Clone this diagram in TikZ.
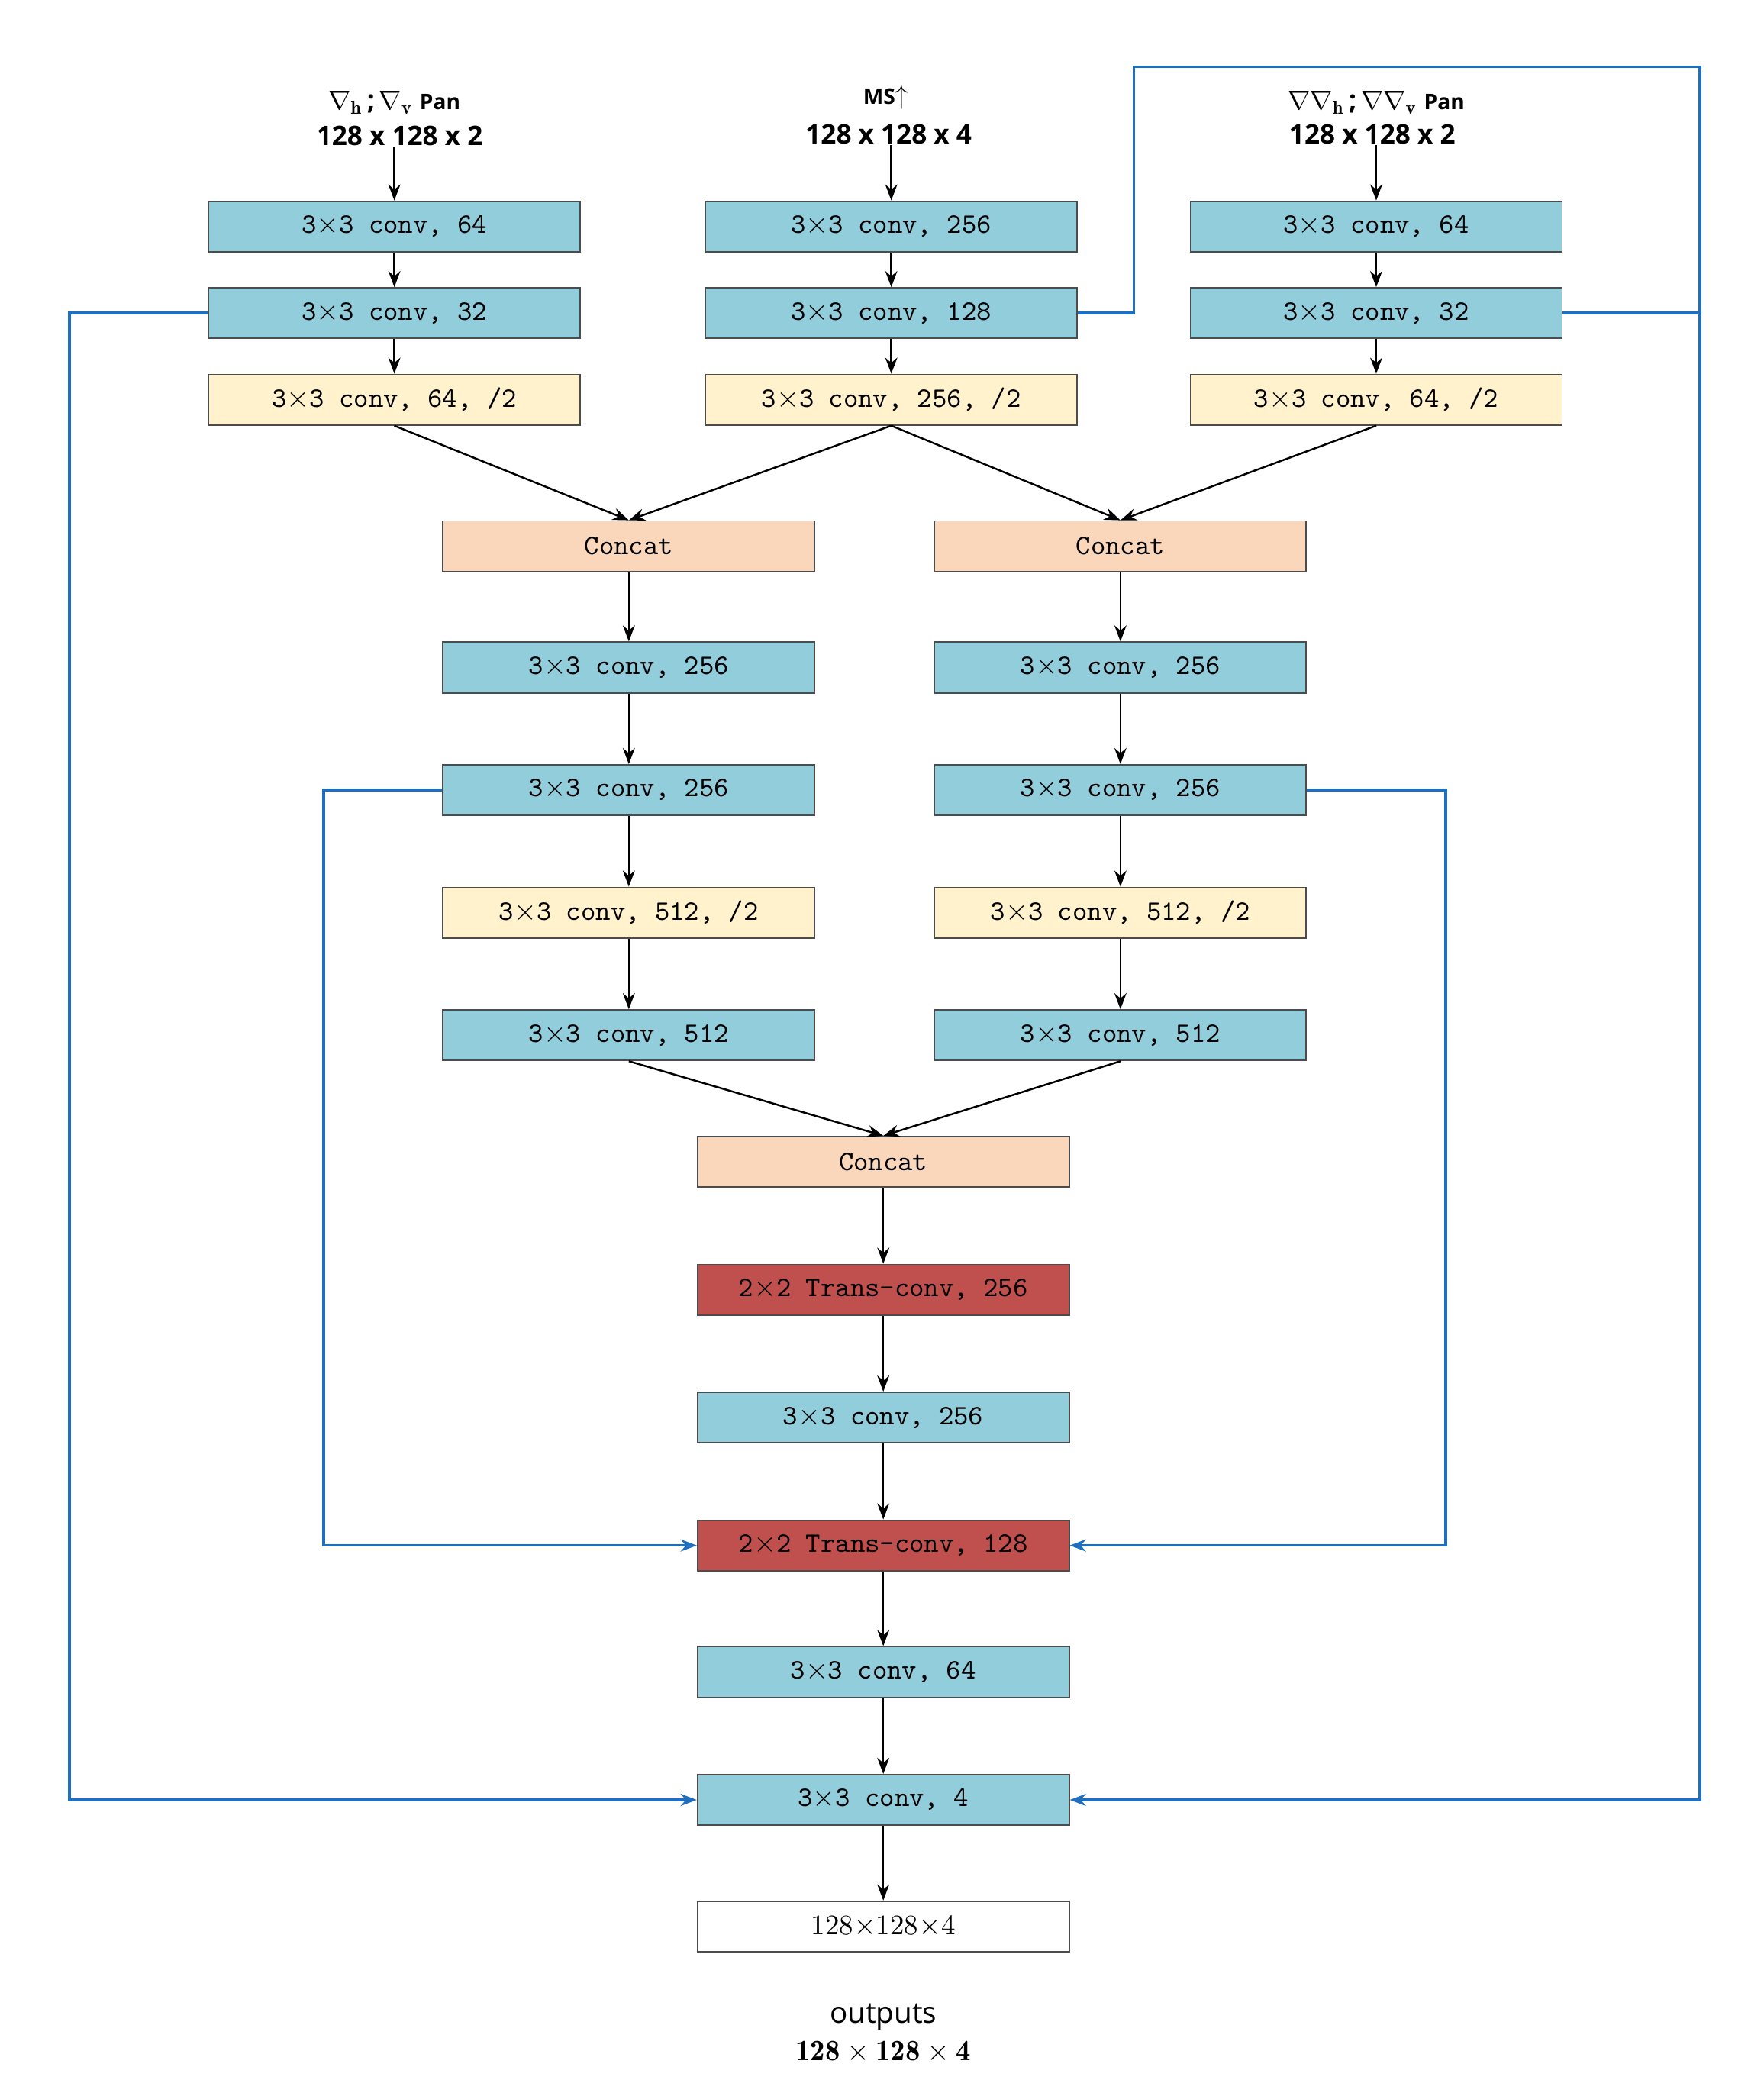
\documentclass[tikz,border=0pt]{standalone}
\usepackage{fontspec}
\newfontfamily\sansb{Open Sans}
\usetikzlibrary{arrows.meta}
\definecolor{cb}{HTML}{92CDDC}
\definecolor{cy}{HTML}{FFF2CC}
\definecolor{cp}{HTML}{FAD7BA}
\definecolor{cr}{HTML}{C0504D}
\definecolor{ln}{HTML}{1F6FC0}
\begin{document}
\begin{tikzpicture}[x=0.01745cm,y=-0.01745cm,
 box/.style={draw=black!70,line width=0.5pt,minimum width=279*0.01745cm,minimum height=38*0.01745cm,inner sep=0pt,font=\ttfamily\fontsize{10.5}{12}\selectfont},
 B/.style={box,fill=cb}, Y/.style={box,fill=cy}, P/.style={box,fill=cp}, R/.style={box,fill=cr},
 lab/.style={font=\sansb\bfseries\fontsize{10}{12}\selectfont,inner sep=0pt},
 ar/.style={-{Stealth[length=6pt,width=4.5pt]},line width=0.7pt},
 bl/.style={draw=ln,line width=1pt},
 ba/.style={bl,-{Stealth[length=6pt,width=4.5pt]}}]
\useasboundingbox (0,0) rectangle (1324,1571);
% top labels
\node[lab] (t1) at (296,77) {$\nabla_{\mathbf h}$\,;\,$\nabla_{\mathbf v}$ {\fontsize{8}{9}\selectfont Pan}};
\node[lab] (t1b) at (300,102) {128 x 128 x 2};
\node[lab] (t2) at (665,73) {{\fontsize{8}{9}\selectfont MS}$\uparrow$};
\node[lab] (t2b) at (667,101) {128 x 128 x 4};
\node[lab] (t3) at (1033,77) {$\nabla\nabla_{\mathbf h}$\,;\,$\nabla\nabla_{\mathbf v}$ {\fontsize{8}{9}\selectfont Pan}};
\node[lab] (t3b) at (1030,101) {128 x 128 x 2};
% columns
\node[B] (l1) at (296,170) {3$\times$3 conv, 64};
\node[B] (l2) at (296,235) {3$\times$3 conv, 32};
\node[Y] (l3) at (296,300) {3$\times$3 conv, 64, /2};
\node[B] (m1) at (669,170) {3$\times$3 conv, 256};
\node[B] (m2) at (669,235) {3$\times$3 conv, 128};
\node[Y] (m3) at (669,300) {3$\times$3 conv, 256, /2};
\node[B] (r1) at (1033,170) {3$\times$3 conv, 64};
\node[B] (r2) at (1033,235) {3$\times$3 conv, 32};
\node[Y] (r3) at (1033,300) {3$\times$3 conv, 64, /2};
\node[P] (cl) at (472,410) {Concat};
\node[B] (a1) at (472,501) {3$\times$3 conv, 256};
\node[B] (a2) at (472,593) {3$\times$3 conv, 256};
\node[Y] (a3) at (472,685) {3$\times$3 conv, 512, /2};
\node[B] (a4) at (472,777) {3$\times$3 conv, 512};
\node[P] (cr) at (841,410) {Concat};
\node[B] (b1) at (841,501) {3$\times$3 conv, 256};
\node[B] (b2) at (841,593) {3$\times$3 conv, 256};
\node[Y] (b3) at (841,685) {3$\times$3 conv, 512, /2};
\node[B] (b4) at (841,777) {3$\times$3 conv, 512};
\node[P] (cc) at (663,872) {Concat};
\node[R] (c1) at (663,968) {2$\times$2 Trans-conv, 256};
\node[B] (c2) at (663,1064) {3$\times$3 conv, 256};
\node[R] (c3) at (663,1160) {2$\times$2 Trans-conv, 128};
\node[B] (c4) at (663,1255) {3$\times$3 conv, 64};
\node[B] (c5) at (663,1351) {3$\times$3 conv, 4};
\node[box,fill=white,font=\rmfamily\fontsize{10.5}{12}\selectfont] (out) at (663,1446) {128$\times$128$\times$4};
\node[font=\sansb\fontsize{11}{13}\selectfont] (o1) at (663,1514) {outputs};
\node[font=\fontsize{11}{13}\selectfont] (o2) at (663,1540) {$\mathbf{128\times128\times4}$};
% black arrows
\draw[ar] (t1b.south -| l1) -- (l1);
\draw[ar] (l1) -- (l2); \draw[ar] (l2) -- (l3);
\draw[ar] (t2b.south -| m1) -- (m1);
\draw[ar] (m1) -- (m2); \draw[ar] (m2) -- (m3);
\draw[ar] (t3b.south -| r1) -- (r1);
\draw[ar] (r1) -- (r2); \draw[ar] (r2) -- (r3);
\draw[ar] (l3.south) -- (cl.north);
\draw[ar] (m3.south) -- (cl.north);
\draw[ar] (m3.south) -- (cr.north);
\draw[ar] (r3.south) -- (cr.north);
\draw[ar] (cl) -- (a1); \draw[ar] (a1) -- (a2); \draw[ar] (a2) -- (a3); \draw[ar] (a3) -- (a4);
\draw[ar] (cr) -- (b1); \draw[ar] (b1) -- (b2); \draw[ar] (b2) -- (b3); \draw[ar] (b3) -- (b4);
\draw[ar] (a4.south) -- (cc.north);
\draw[ar] (b4.south) -- (cc.north);
\draw[ar] (cc) -- (c1); \draw[ar] (c1) -- (c2); \draw[ar] (c2) -- (c3); \draw[ar] (c3) -- (c4); \draw[ar] (c4) -- (c5); \draw[ar] (c5) -- (out);
% blue skip connections
\coordinate (j) at (1276,235);
\draw[ba] (l2.west) -- (52,235) |- (c5.west);
\draw[bl] (m2.east) -- (851,235) -- (851,50) -- (1276,50) -- (j);
\draw[bl] (r2.east) -- (j);
\draw[ba] (j) |- (c5.east);
\draw[ba] (a2.west) -- (243,593) |- (c3.west);
\draw[ba] (b2.east) -- (1085,593) |- (c3.east);
\end{tikzpicture}
\end{document}
